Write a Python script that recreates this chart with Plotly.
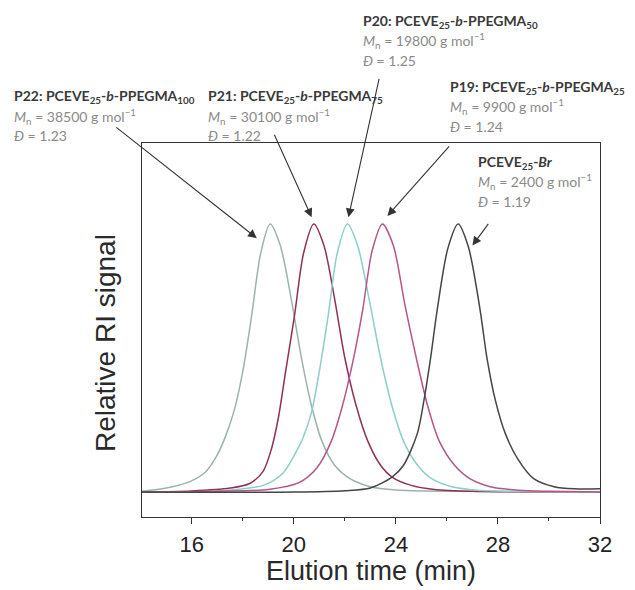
import plotly.graph_objects as go

# ---- data ----
p22_t = [14.0, 15.0, 15.9, 16.55, 16.95, 17.25, 17.65, 18.0, 18.35, 18.7, 19.07, 19.47, 19.9, 20.3, 20.7, 21.1, 21.6, 22.2, 23.0, 24.0, 26.0, 32.0]
p22_s = [0.003, 0.015, 0.038, 0.076, 0.13, 0.19, 0.30, 0.45, 0.66, 0.89, 1.0, 0.92, 0.72, 0.50, 0.32, 0.19, 0.10, 0.05, 0.02, 0.008, 0.003, 0.0]

p21_t = [14.0, 16.0, 17.5, 18.27, 18.79, 19.12, 19.4, 19.68, 20.03, 20.38, 20.78, 21.18, 21.6, 22.0, 22.45, 22.9, 23.4, 23.85, 24.6, 25.5, 27.0, 32.0]
p21_s = [0.0, 0.004, 0.015, 0.032, 0.076, 0.16, 0.28, 0.45, 0.66, 0.89, 1.0, 0.92, 0.72, 0.50, 0.32, 0.19, 0.10, 0.056, 0.025, 0.01, 0.003, 0.0]

p20_t = [14.0, 17.0, 18.8, 19.57, 20.09, 20.35, 20.7, 21.0, 21.35, 21.7, 22.1, 22.5, 22.95, 23.4, 23.85, 24.3, 24.85, 25.4, 26.2, 27.2, 29.0, 32.0]
p20_s = [0.0, 0.004, 0.025, 0.07, 0.15, 0.20, 0.30, 0.45, 0.66, 0.89, 1.0, 0.92, 0.72, 0.50, 0.32, 0.19, 0.10, 0.05, 0.02, 0.007, 0.002, 0.0]

p19_t = [14.0, 17.0, 19.0, 20.2, 20.9, 21.47, 21.9, 22.3, 22.7, 23.07, 23.47, 23.9, 24.35, 24.8, 25.25, 25.7, 26.3, 26.9, 27.7, 28.8, 30.0, 32.0]
p19_s = [0.0, 0.003, 0.01, 0.035, 0.09, 0.19, 0.32, 0.48, 0.68, 0.90, 1.0, 0.92, 0.70, 0.50, 0.32, 0.19, 0.10, 0.05, 0.02, 0.007, 0.003, 0.0]

br_t = [14.0, 20.0, 22.0, 23.0, 23.85, 24.3, 24.84, 25.1, 25.36, 25.62, 26.04, 26.44, 26.84, 27.3, 27.57, 27.9, 28.29, 28.8, 29.4, 30.2, 31.0, 32.0]
br_s = [0.0, 0.0, 0.005, 0.015, 0.056, 0.10, 0.218, 0.342, 0.50, 0.68, 0.91, 1.0, 0.915, 0.68, 0.50, 0.342, 0.218, 0.12, 0.05, 0.02, 0.012, 0.012]

x_ticks = [16, 20, 24, 28, 32]
x_tick_labels = ["16", "20", "24", "28", "32"]

series = [
    ("P22", p22_t, p22_s, "#9db3aa"),
    ("P21", p21_t, p21_s, "#922f57"),
    ("P20", p20_t, p20_s, "#8ccfc6"),
    ("P19", p19_t, p19_s, "#b5568a"),
    ("PCEVE25-Br", br_t, br_s, "#454545"),
]

labels = [
    # (title html, Mn, D, left px, title y px)
    ("P22: PCEVE<sub>25</sub>-<i>b</i>-PPEGMA<sub>100</sub>", "38500", "1.23", 12, 97),
    ("P21: PCEVE<sub>25</sub>-<i>b</i>-PPEGMA<sub>75</sub>", "30100", "1.22", 206, 97),
    ("P20: PCEVE<sub>25</sub>-<i>b</i>-PPEGMA<sub>50</sub>", "19800", "1.25", 361, 21),
    ("P19: PCEVE<sub>25</sub>-<i>b</i>-PPEGMA<sub>25</sub>", "9900", "1.24", 448, 87),
    ("PCEVE<sub>25</sub>-<i>Br</i>", "2400", "1.19", 476, 162),
]

# arrow tips (data coords) and tail offsets (px)
arrows = [
    (18.55, 0.947, -142, -112),
    (20.70, 1.025, -38, -84),
    (22.14, 1.025, 31, -140),
    (23.67, 1.03, 63, -71),
    (27.0, 0.92, 17, -23),
]

W, H = 635, 590
L, R, T, B = 142, 35, 143, 73
pw, ph = W - L - R, H - T - B

fig = go.Figure()
for name, t, s, c in series:
    fig.add_trace(go.Scatter(x=t, y=s, mode="lines", name=name,
                             line=dict(color=c, width=1.5, shape="spline", smoothing=0.8),
                             showlegend=False, hoverinfo="skip"))

def px2paper(px, py):
    return (px - L) / pw, (H - B - py) / ph

annos = []
font_fam = "Lato, Open Sans, sans-serif"
for title, mn, d, lx, ty in labels:
    for k, txt in enumerate([
        "<b>%s</b>" % title,
        "<i>M</i><sub>n</sub> = %s g mol<sup>−1</sup>" % mn,
        "<i>Đ</i> = %s" % d,
    ]):
        xp, yp = px2paper(lx, ty + 19.5 * k)
        annos.append(dict(x=xp, y=yp, xref="paper", yref="paper", text=txt,
                          showarrow=False, xanchor="left", yanchor="middle",
                          font=dict(family=font_fam, size=14,
                                    color="#3a3a3a" if k == 0 else "#8a8a8a")))

for xa, ya, ax, ay in arrows:
    annos.append(dict(x=xa, y=ya, xref="x", yref="y", ax=ax, ay=ay, axref="pixel", ayref="pixel",
                      text="", showarrow=True, arrowhead=2, arrowsize=1.6, arrowwidth=1.1,
                      arrowcolor="#333333"))

# y-axis title placed as rotated text
yt_x, yt_y = px2paper(105, 343)
annos.append(dict(x=yt_x, y=yt_y, xref="paper", yref="paper", text="Relative RI signal",
                  showarrow=False, textangle=-90, xanchor="center", yanchor="middle",
                  font=dict(family="Liberation Sans, Arial, sans-serif", size=28, color="#2a2a2a")))

fig.update_layout(
    width=W, height=H,
    margin=dict(l=L, r=R, t=T, b=B),
    paper_bgcolor="white", plot_bgcolor="white",
    annotations=annos,
    font=dict(family="Liberation Sans, Arial, sans-serif", color="#222"),
    xaxis=dict(range=[14.05, 32], tickmode="array", tickvals=x_ticks, ticktext=x_tick_labels,
               ticks="outside", ticklen=6, tickwidth=1.2, tickcolor="#333",
               ticklabelstandoff=1,
               minor=dict(tickvals=[18, 22, 26, 30], ticks="outside", ticklen=3, tickcolor="#333"),
               showline=True, linecolor="#333", linewidth=1.2, mirror=True,
               showgrid=False, zeroline=False,
               tickfont=dict(size=22, color="#222"),
               title=dict(text="Elution time (min)", font=dict(size=27, color="#2a2a2a"), standoff=0)),
    yaxis=dict(range=[-0.093, 1.302], showticklabels=False, ticks="",
               showline=True, linecolor="#333", linewidth=1.2, mirror=True,
               showgrid=False, zeroline=False),
)

fig.write_html("out.html")
